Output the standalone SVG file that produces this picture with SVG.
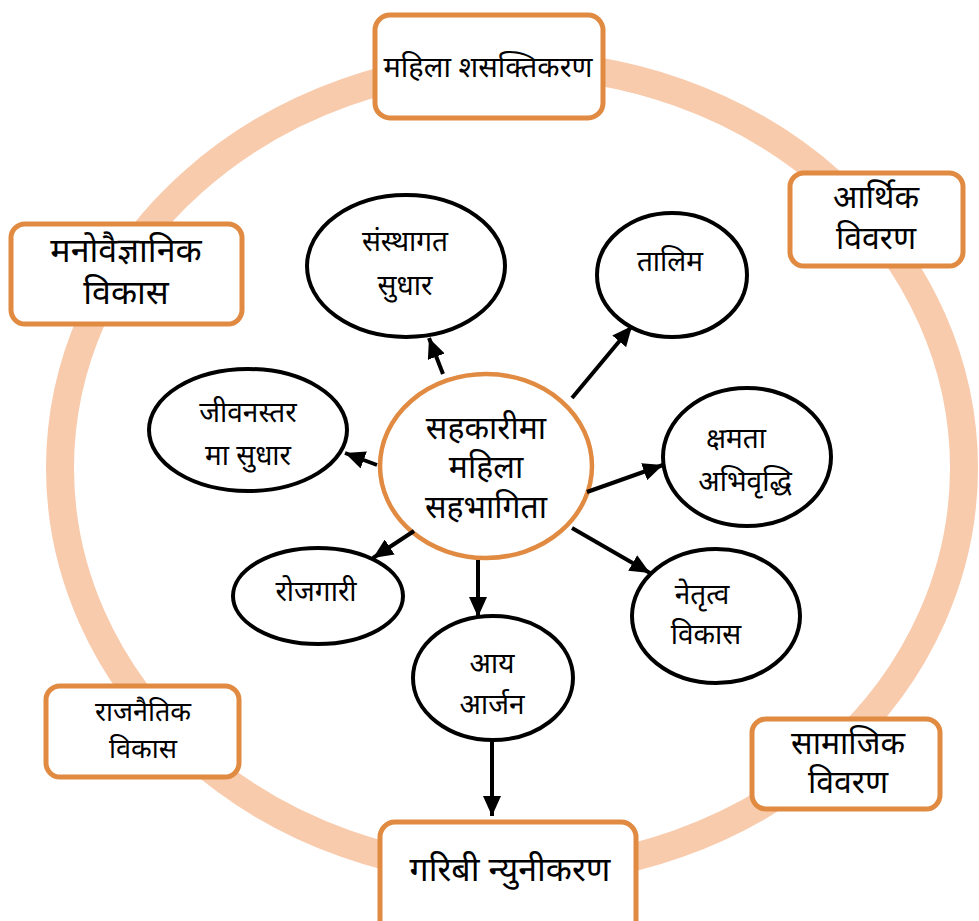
<svg xmlns="http://www.w3.org/2000/svg" width="979" height="921" viewBox="0 0 979 921">
<defs>
<style>
.ring{fill:none;stroke:#F8CBAD;stroke-width:28}
.box{fill:#fff;stroke:#E08A42;stroke-width:5}
.hub{fill:#fff;stroke:#E08A42;stroke-width:4.5}
.ell{fill:#fff;stroke:#000;stroke-width:4}
.t{font-family:"Noto Sans Devanagari","Noto Sans","Lohit Devanagari","FreeSans",sans-serif;fill:#000;text-anchor:middle}
.big{font-size:32px}
.mid{font-size:27px}
.sm{font-size:28px}
.conn line{stroke:#000;stroke-width:4}
</style>
<marker id="ah" markerUnits="userSpaceOnUse" markerWidth="22" markerHeight="18" refX="20" refY="9" orient="auto">
<path d="M0,0 L20,9 L0,18 Z" fill="#000"/>
</marker>
</defs>
<rect width="979" height="921" fill="#fff"/>
<ellipse class="ring" cx="512" cy="468" rx="452" ry="404"/>

<g id="box-top"><rect class="box" x="375" y="15" width="228" height="103" rx="15"/>
<text class="t" style="font-size:29px" x="488" y="77">महिला शसक्तिकरण</text></g>
<g id="box-arthik"><rect class="box" x="790" y="173" width="173" height="93" rx="14"/>
<text class="t big" x="876" y="208">आर्थिक</text><text class="t big" x="876" y="249">विवरण</text></g>
<g id="box-mano"><rect class="box" x="11" y="224" width="231" height="100" rx="14"/>
<text class="t" style="font-size:34px" x="126" y="262">मनोवैज्ञानिक</text><text class="t" style="font-size:34px" x="126" y="304">विकास</text></g>
<g id="box-raj"><rect class="box" x="46" y="686" width="193" height="91" rx="14"/>
<text class="t mid" x="143" y="721">राजनैतिक</text><text class="t mid" x="143" y="758">विकास</text></g>
<g id="box-samajik"><rect class="box" x="752" y="719" width="188" height="90" rx="14"/>
<text class="t big" x="848" y="754">सामाजिक</text><text class="t big" x="848" y="793">विवरण</text></g>
<g id="box-garibi"><rect class="box" x="380" y="822" width="256" height="115" rx="15"/>
<text class="t" style="font-size:34px" x="510" y="881">गरिबी न्युनीकरण</text></g>

<g id="hub"><ellipse class="hub" cx="486" cy="466" rx="106" ry="92"/>
<text class="t big" x="486" y="439">सहकारीमा</text>
<text class="t big" x="486" y="478">महिला</text>
<text class="t big" x="486" y="518">सहभागिता</text></g>

<g id="n-sanstha"><ellipse class="ell" cx="406" cy="266" rx="99" ry="71"/>
<text class="t sm" x="405" y="251">संस्थागत</text><text class="t sm" x="405" y="295">सुधार</text></g>
<g id="n-talim"><ellipse class="ell" cx="672" cy="275" rx="75" ry="62"/>
<text class="t sm" x="670" y="271">तालिम</text></g>
<g id="n-jeevan"><ellipse class="ell" cx="248" cy="430" rx="99" ry="61"/>
<text class="t sm" x="248" y="422">जीवनस्तर</text><text class="t sm" x="248" y="465">मा सुधार</text></g>
<g id="n-kshamata"><ellipse class="ell" cx="747" cy="457" rx="84" ry="69"/>
<text class="t sm" x="736" y="448">क्षमता</text><text class="t sm" x="745" y="491">अभिवृद्धि</text></g>
<g id="n-netritva"><ellipse class="ell" cx="716" cy="616" rx="84" ry="67"/>
<text class="t sm" x="702" y="604">नेतृत्व</text><text class="t sm" x="706" y="644">विकास</text></g>
<g id="n-rojgari"><ellipse class="ell" cx="318" cy="596" rx="85" ry="48"/>
<text class="t sm" x="316" y="601">रोजगारी</text></g>
<g id="n-aay"><ellipse class="ell" cx="493" cy="678" rx="80" ry="62"/>
<text class="t sm" x="492" y="673">आय</text><text class="t sm" x="492" y="714">आर्जन</text></g>

<g id="connectors" class="conn">
<line x1="443" y1="374" x2="429" y2="338" marker-end="url(#ah)"/>
<line x1="572" y1="398" x2="632" y2="326" marker-end="url(#ah)"/>
<line x1="377" y1="465" x2="345" y2="453" marker-end="url(#ah)"/>
<line x1="587" y1="492" x2="663" y2="465" marker-end="url(#ah)"/>
<line x1="572" y1="528" x2="650" y2="573" marker-end="url(#ah)"/>
<line x1="414" y1="531" x2="373" y2="558" marker-end="url(#ah)"/>
<line x1="478" y1="560" x2="478" y2="617" marker-end="url(#ah)"/>
<line x1="492" y1="740" x2="492" y2="816" marker-end="url(#ah)"/>
</g>
</svg>
